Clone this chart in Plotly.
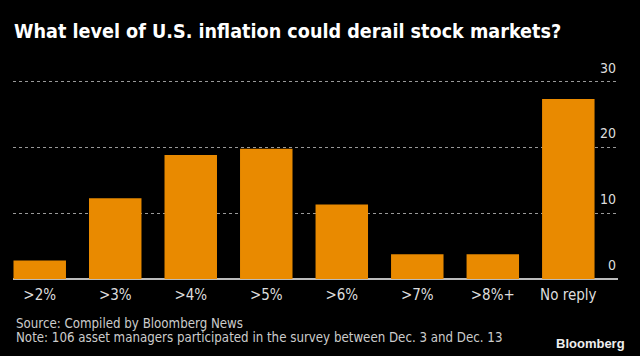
import plotly.graph_objects as go

categories = [">2%", ">3%", ">4%", ">5%", ">6%", ">7%", ">8%+", "No reply"]
values = [2.83, 12.26, 18.87, 19.81, 11.32, 3.77, 3.77, 27.36]
y_ticks = [0, 10, 20, 30]
title = "What level of U.S. inflation could derail stock markets?"
source = "Source: Compiled by Bloomberg News"
note = "Note: 106 asset managers participated in the survey between Dec. 3 and Dec. 13"

W, H = 640, 356
L, R, T, B = 13, 22, 58, 77
pw, ph = W - L - R, H - T - B
unit_px = 6.577
ymax = ph / unit_px

def px(x):
    return (x - L) / pw

def py(y):
    return (H - B - y) / ph

FONT = "Liberation Sans Narrow, DejaVu Sans Condensed, Arial Narrow, DejaVu Sans, sans-serif"

fig = go.Figure(go.Bar(x=list(range(len(categories))), y=values, marker_color="#E98A00",
                       marker_line_width=0, width=0.695))

annotations = [
    dict(text=str(t), xref="paper", yref="y", x=1.0, y=t, yshift=14, xanchor="right",
         yanchor="middle", showarrow=False, font=dict(size=14, color="#dddddd", family=FONT))
    for t in y_ticks
]
annotations += [
    dict(text=source, xref="paper", yref="paper", x=px(14), y=py(323.3), xanchor="left",
         yanchor="middle", showarrow=False, font=dict(size=13.2, color="#cccccc", family=FONT)),
    dict(text=note, xref="paper", yref="paper", x=px(14), y=py(337.3), xanchor="left",
         yanchor="middle", showarrow=False, font=dict(size=13.2, color="#cccccc", family=FONT)),
    dict(text="<b>Bloomberg</b>", xref="paper", yref="paper", x=px(627), y=py(343.3), xanchor="right",
         yanchor="middle", showarrow=False,
         font=dict(size=13, color="#eeeeee", family="Liberation Sans, Arial, sans-serif")),
]

fig.update_layout(
    width=W, height=H,
    paper_bgcolor="black", plot_bgcolor="black",
    margin=dict(l=L, r=R, t=T, b=B),
    showlegend=False,
    font=dict(family=FONT, color="#dddddd", size=13),
    title=dict(text="<b>" + title + "</b>", x=14 / W, xref="container", xanchor="left",
               y=1 - 31 / H, yref="container", yanchor="middle",
               font=dict(family=FONT, size=19.6, color="white")),
    xaxis=dict(tickmode="array", tickvals=list(range(len(categories))), ticktext=categories,
               range=[-0.354, 7.658], showgrid=False, zeroline=False, showline=False,
               ticks="outside", ticklen=2, tickcolor="rgba(0,0,0,0)",
               tickfont=dict(size=15, color="#dddddd")),
    yaxis=dict(range=[0, ymax], tickvals=y_ticks, showticklabels=False,
               showgrid=True, gridcolor="#999999", griddash="dot", gridwidth=1,
               zeroline=True, zerolinecolor="#bbbbbb", zerolinewidth=1.5,
               showline=False),
    annotations=annotations,
)

fig.write_html("out.html", config={"displayModeBar": False},
               post_script="document.body.style.margin='0';")
